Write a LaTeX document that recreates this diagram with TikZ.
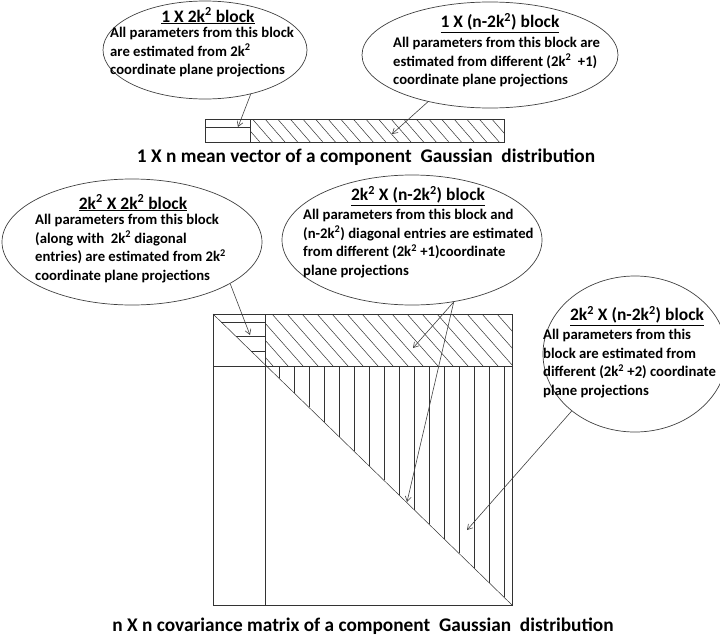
\documentclass[tikz,border=0pt]{standalone}
\usepackage{fontspec}
\setmainfont{Carlito}
\usetikzlibrary{shapes.geometric,arrows.meta}

\tikzset{
  blob/.style={draw=black!75, ellipse, inner sep=0pt, line width=0.7pt},
  note/.style={font=\bfseries\fontsize{14.7}{18.7}\selectfont, align=left, inner sep=0pt, anchor=north west},
  head/.style={font=\bfseries\fontsize{17.5}{19}\selectfont, inner sep=0pt},
  caption/.style={font=\bfseries\fontsize{19.3}{21}\selectfont, inner sep=0pt},
  pointer/.style={draw=black!75, line width=0.6pt, -{Straight Barb[length=5pt,width=6pt]}},
  hatch/.style={draw=black!80, line width=0.5pt},
  frame/.style={draw=black!80, line width=0.8pt}
}
\newcommand{\ksq}{k\textsuperscript{2}}

\begin{document}
\begin{tikzpicture}[x=1pt,y=-1pt]
\useasboundingbox (0,0) rectangle (720,637);

\coordinate (V1) at (205,119);
\coordinate (V2) at (504,142);
\coordinate (V3) at (250,119);
\coordinate (V4) at (250,142);

\begin{scope}
\clip (V3) rectangle (V2);
\foreach \x in {227.2,239.8,...,510} \draw[hatch] (\x,119) -- (\x+20,142);
\end{scope}
\draw[frame] (V1) rectangle (V2);
\draw[frame] (V3) -- (V4);
\draw[frame] (205,127) -- (250,127);

\coordinate (A) at (213,314);
\coordinate (B) at (512,605);
\coordinate (C) at (265,314);
\coordinate (D) at (265,605);
\coordinate (E) at (213,366);
\coordinate (F) at (512,366);

\begin{scope}
\clip (C) rectangle (F);
\foreach \x in {182,197,...,512} \draw[hatch] (\x,314) -- (\x+46,366);
\end{scope}
\foreach \x in {279,294,...,504}
  \draw[hatch] (\x,366) -- (\x,{314+(\x-213)*0.97324});
\foreach \y in {322,336,351}
  \draw[hatch] ({213+(\y-314)*1.02749},\y) -- (265,\y);
\draw[hatch] (A) -- (B);
\draw[frame] (A) rectangle (B);
\draw[frame] (C) -- (D);
\draw[frame] (E) -- (F);

\node[caption] (cap1) at (366,157) {1 X n mean vector of a component~ Gaussian~ distribution};
\node[caption] (cap2) at (363,626) {n X n covariance matrix of a component~ Gaussian~ distribution};

\node[blob, minimum width=204, minimum height=98] (e1) at (205,50) {};
\node[blob, minimum width=256, minimum height=106] (e2) at (490,55) {};
\node[blob, minimum width=260, minimum height=126] (e3) at (132,242) {};
\node[blob, minimum width=260, minimum height=130] (e4) at (412,240) {};
\node[blob, minimum width=184, minimum height=156] (e5) at (635,354) {};

\node[head] (h1) at (208,16) {\underline{1 X 2\ksq{} block}};
\node[note] (t1) at (110,27) {All parameters from this block\\are estimated from 2\ksq\\coordinate plane projections};
\node[head] (h2) at (500,23) {\underline{1 X (n-2\ksq) block}};
\node[note] (t2) at (393,37) {All parameters from this block are\\estimated from different (2\ksq~ +1)\\coordinate plane projections};
\node[head] (h3) at (133,203) {\underline{2\ksq{} X 2\ksq{} block}};
\node[note] (t3) at (35,214) {All parameters from this block\\(along with~ 2\ksq{} diagonal\\entries) are estimated from 2\ksq\\coordinate plane projections};
\node[head] (h4) at (418,196) {\underline{2\ksq{} X (n-2\ksq) block}};
\node[note] (t4) at (303,209) {All parameters from this block and\\(n-2\ksq) diagonal entries are estimated\\from different (2\ksq{} +1)coordinate\\plane projections};
\node[head] (h5) at (637,316) {\underline{2\ksq{} X (n-2\ksq) block}};
\node[note] (t5) at (543,329) {All parameters from this\\block are estimated from\\different (2\ksq{} +2) coordinate\\plane projections};

\coordinate (g1) at (238,127);
\coordinate (g2) at (392,134);
\coordinate (g3) at (250,335);
\coordinate (g4) at (413,348);
\coordinate (g5) at (407,502);
\coordinate (g6) at (467,530);

\draw[pointer] (e1.-44) -- (g1);
\draw[pointer] (e2.-143) -- (g2);
\draw[pointer] (e3.-23) -- (g3);
\draw[pointer] (e4.-56) -- (g4);
\draw[pointer] (e4.-56) -- (g5);
\draw[pointer] (e5.-138) -- (g6);

\end{tikzpicture}
\end{document}
